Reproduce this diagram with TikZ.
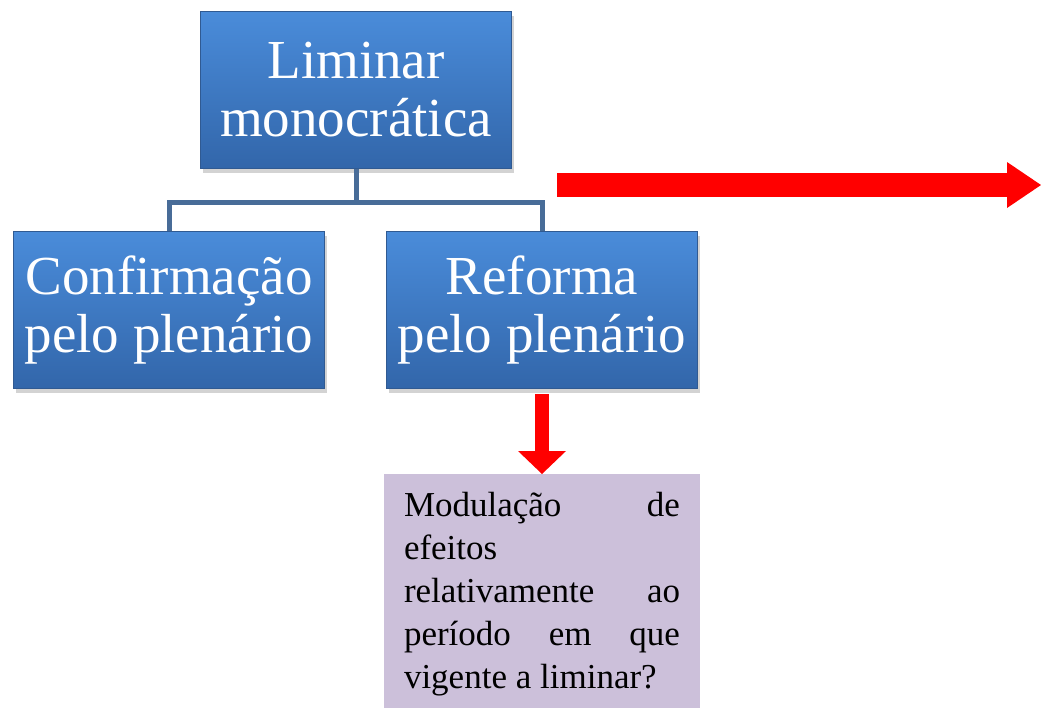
\documentclass[tikz,border=0pt]{standalone}
\usepackage{fontspec}
\setmainfont{Liberation Serif}
\usetikzlibrary{arrows.meta,shadows}
\definecolor{caixatopo}{RGB}{74,140,218}
\definecolor{caixabase}{RGB}{50,102,170}
\definecolor{caixaborda}{RGB}{48,90,146}
\definecolor{ramocor}{RGB}{72,108,152}
\definecolor{lilas}{RGB}{204,192,218}

\begin{document}
\begin{tikzpicture}[x=1pt,y=-1pt,
            caixa/.style={draw=caixaborda,line width=1pt,top color=caixatopo,bottom color=caixabase,
              text=white,align=center,inner sep=0pt,minimum width=311pt,minimum height=157pt,
              font=\fontsize{55}{58}\selectfont,
              drop shadow={shadow xshift=2pt,shadow yshift=-4pt,opacity=0.35}},
            ramo/.style={draw=ramocor,line width=5pt},
            seta/.style args={#1/#2/#3}{draw=red,line width=#1,-{Triangle[length=#2,width=#3,line width=0pt 0 0]}}]
  \useasboundingbox (0,0) rectangle (1041,707);
  % quadros
  \node[caixa] (liminar) at (356,90) {Liminar\\monocrática};
  \node[caixa] (confirm) at (169,310) {Confirmação\\pelo plenário};
  \node[caixa] (reforma) at (542,310) {Reforma\\pelo plenário};
  \node[fill=lilas,anchor=north,text width=276pt,align=justify,inner xsep=20pt,inner ysep=18pt,
        font=\fontsize{35}{43}\selectfont] (modula) at (542,474)
        {\hyphenpenalty=10000\relax\hbadness=10000\relax
         Modulação de\linebreak efeitos\newline relativamente ao\linebreak período em que\linebreak vigente a liminar?};
  % ligacoes
  \draw[ramo] (liminar.south) -- ++(0,33) -| (confirm.north);
  \draw[ramo] (liminar.south) -- ++(0,33) -| (reforma.north);
  % setas
  \coordinate (ini) at (557,185);
  \coordinate (fim) at (1041,185);
  \draw[seta=24pt/34pt/46pt] (ini) -- (fim);
  \draw[seta=14pt/23pt/48pt] ([yshift=-5pt]reforma.south) -- (modula.north);
\end{tikzpicture}
\end{document}
